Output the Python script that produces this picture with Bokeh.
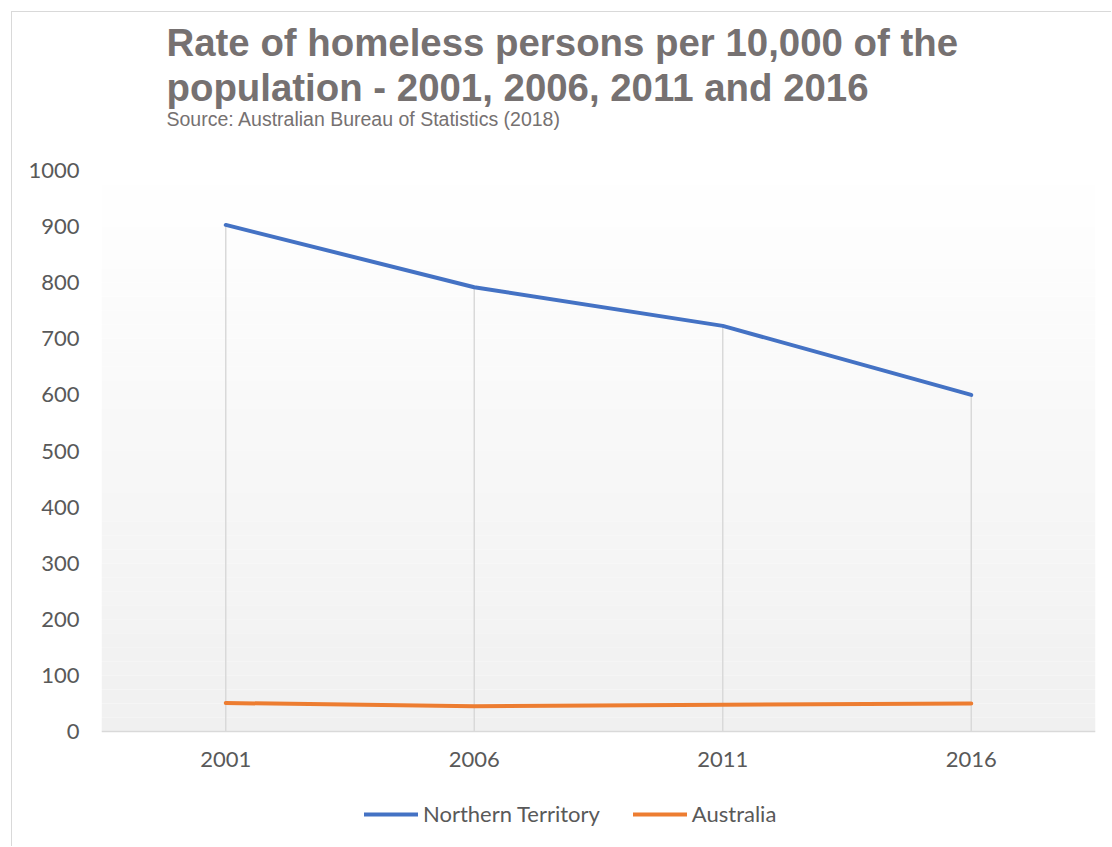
from bokeh.plotting import figure
from bokeh.models import (Range1d, FactorRange, FixedTicker, Title,
                          Legend, LegendItem, BoxAnnotation, ColumnDataSource)
from bokeh.embed import file_html
from bokeh.resources import INLINE

# ---- data ----
years = ["2001", "2006", "2011", "2016"]
northern_territory = [903, 792, 723, 600]
australia = [50.8, 45.2, 47.6, 49.8]
series_names = ["Northern Territory", "Australia"]
y_ticks = [0, 100, 200, 300, 400, 500, 600, 700, 800, 900, 1000]
title_lines = ["Rate of homeless persons per 10,000 of the",
               "population - 2001, 2006, 2011 and 2016"]
subtitle = "Source: Australian Bureau of Statistics (2018)"

Y_MAX = 1000
PLOT_H_PX = 561            # pixel height of the 0..1000 value band
BELOW_PX = 116             # space under the value band (axis labels + legend)
y_start = -Y_MAX * BELOW_PX / PLOT_H_PX

TICK_FONT = "Lato"
GREY_TXT = "#595959"
TITLE_GREY = "#767171"

p = figure(width=1100, height=835, x_range=FactorRange(*years, range_padding=0),
           y_range=Range1d(y_start, Y_MAX), output_backend="svg",
           toolbar_location=None, title=None, min_border_left=89,
           min_border_right=17, min_border_top=158, min_border_bottom=0)
p.styles = {"margin-left": "11px", "margin-top": "11px",
            "border-left": "1px solid #d9d9d9", "border-top": "1px solid #d9d9d9"}
p.outline_line_color = None
p.background_fill_color = "white"
p.border_fill_color = "white"
p.xgrid.visible = False
p.ygrid.visible = False

# gradient background of plot area (white at top -> light grey at bottom)
n = 40
for i in range(n):
    y0 = Y_MAX * i / n
    y1 = Y_MAX * (i + 1) / n
    frac = 1 - (i + 0.5) / n
    c = int(round(255 - 15 * frac))
    p.add_layout(BoxAnnotation(bottom=y0, top=y1, fill_color=(c, c, c), fill_alpha=1,
                               line_color=None, level="underlay"))

# drop lines
src = ColumnDataSource(dict(x=years, nt=northern_territory, au=australia,
                            zero=[0] * len(years)))
p.segment(x0="x", y0="zero", x1="x", y1="nt", source=src, line_color="#d9d9d9",
          line_width=1.5)

r_nt = p.line("x", "nt", source=src, line_color="#4472C4", line_width=4,
              line_cap="round", line_join="round")
r_au = p.line("x", "au", source=src, line_color="#ED7D31", line_width=4,
              line_cap="round", line_join="round")

# axes
p.yaxis.ticker = FixedTicker(ticks=y_ticks)
p.yaxis.axis_line_color = None
p.yaxis.major_tick_line_color = None
p.yaxis.minor_tick_line_color = None
p.yaxis.major_tick_out = 0
p.yaxis.major_label_standoff = 22
p.yaxis.major_label_text_font = TICK_FONT
p.yaxis.major_label_text_font_size = "22px"
p.yaxis.major_label_text_color = GREY_TXT

p.xaxis.fixed_location = 0
p.xaxis.axis_line_color = "#d9d9d9"
p.xaxis.axis_line_width = 1.5
p.xaxis.major_tick_line_color = None
p.xaxis.minor_tick_line_color = None
p.xaxis.major_tick_out = 0
p.xaxis.major_label_standoff = 20
p.xaxis.major_label_text_font = TICK_FONT
p.xaxis.major_label_text_font_size = "22px"
p.xaxis.major_label_text_color = GREY_TXT

# titles (added bottom-up: first one sits closest to the plot)
p.add_layout(Title(text=subtitle, align="left", offset=65, standoff=82,
                   text_font="Liberation Sans", text_font_style="normal",
                   text_font_size="19.5px", text_color=TITLE_GREY), "above")
p.add_layout(Title(text="\n".join(title_lines), align="left", offset=65, standoff=-90,
                   text_font="Liberation Sans", text_font_style="bold",
                   text_font_size="38.4px", text_line_height=1.05,
                   text_color=TITLE_GREY), "above")

legend = Legend(items=[LegendItem(label=series_names[0], renderers=[r_nt]),
                       LegendItem(label=series_names[1], renderers=[r_au])],
                location=(263, 20), orientation="horizontal",
                padding=0, margin=0, spacing=33, glyph_width=54, glyph_height=24,
                label_standoff=5, label_height=24,
                label_text_font=TICK_FONT, label_text_font_size="22px",
                label_text_color=GREY_TXT, border_line_color=None,
                background_fill_alpha=0)
p.add_layout(legend, "center")

open("out.html", "w").write(file_html(p, INLINE))
